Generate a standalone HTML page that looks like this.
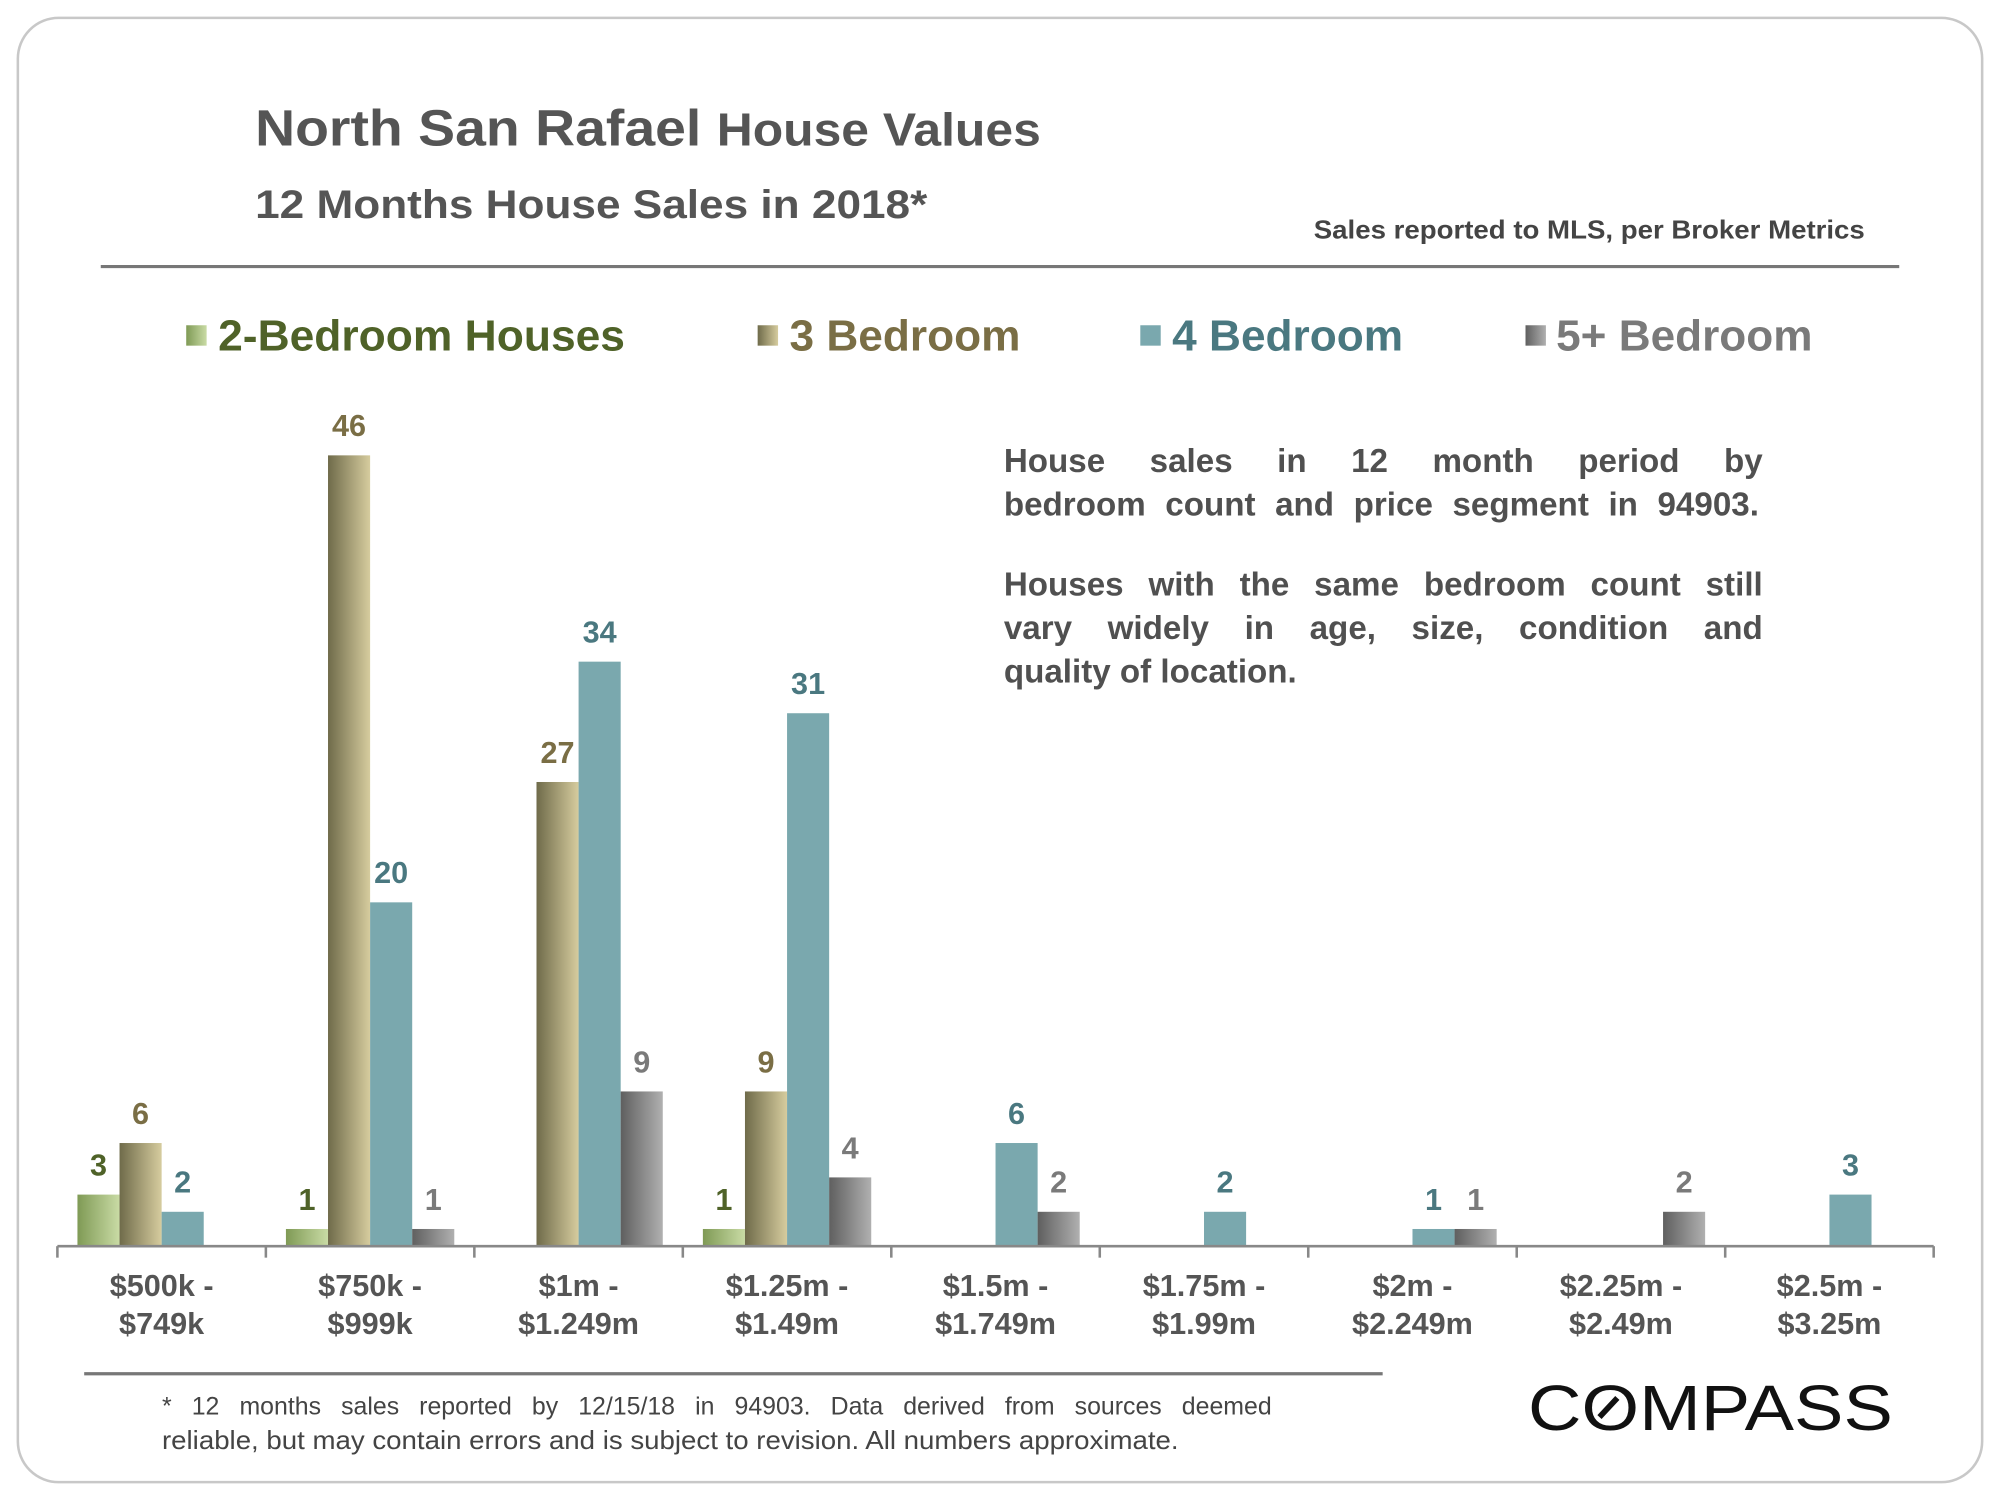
<!DOCTYPE html>
<html><head><meta charset="utf-8"><style>
html,body{margin:0;padding:0;background:#fff;}
svg{display:block;font-family:"Liberation Sans",Arial,sans-serif;}
#overlay{position:absolute;left:0;top:0;width:1568px;height:1176px;transform:scale(1.27551);transform-origin:0 0;font-family:"Liberation Sans",Arial,sans-serif;pointer-events:none;}
.jl{position:absolute;white-space:nowrap;text-align:justify;text-align-last:justify;}
.desc{left:787px;width:595px;font-weight:bold;font-size:26px;color:#505050;line-height:30px;height:30px;}
.foot{left:127px;width:870px;font-size:19.5px;color:#444;line-height:22px;height:22px;}
</style></head><body>
<svg id="chart" width="2000" height="1500" viewBox="0 0 1568 1176" xmlns="http://www.w3.org/2000/svg">
<defs>
<linearGradient id="g2" x1="0" x2="1" y1="0" y2="0"><stop offset="0" stop-color="#7f9a55"/><stop offset="1" stop-color="#c9dba5"/></linearGradient>
<linearGradient id="g3" x1="0" x2="1" y1="0" y2="0"><stop offset="0" stop-color="#6f6b4a"/><stop offset="1" stop-color="#d6cc9e"/></linearGradient>
<linearGradient id="g5" x1="0" x2="1" y1="0" y2="0"><stop offset="0" stop-color="#5f5f5f"/><stop offset="1" stop-color="#b0b0b0"/></linearGradient>
</defs>
<rect x="14" y="14" width="1540" height="1148" rx="32" fill="#fff" stroke="#c8c8c8" stroke-width="2"/>
<text x="200" y="114" fill="#555" font-weight="bold" font-size="40" textLength="616" lengthAdjust="spacingAndGlyphs">North San Rafael <tspan font-size="36">House Values</tspan></text>
<text x="200" y="171" fill="#555" font-weight="bold" font-size="31" textLength="527" lengthAdjust="spacingAndGlyphs">12 Months House Sales in 2018*</text>
<text x="1462" y="187" text-anchor="end" fill="#444" font-weight="bold" font-size="20" textLength="432" lengthAdjust="spacingAndGlyphs">Sales reported to MLS, per Broker Metrics</text>
<line x1="79" y1="209" x2="1489" y2="209" stroke="#777" stroke-width="2.5"/>
<g>
<g><rect x="146" y="255" width="16" height="16" fill="url(#g2)"/><text x="171" y="275" fill="#4f6228" font-weight="bold" font-size="34" textLength="319" lengthAdjust="spacingAndGlyphs">2-Bedroom Houses</text></g>
<g><rect x="594" y="255" width="16" height="16" fill="url(#g3)"/><text x="619" y="275" fill="#7a6e45" font-weight="bold" font-size="34" textLength="181" lengthAdjust="spacingAndGlyphs">3 Bedroom</text></g>
<g><rect x="894" y="255" width="16" height="16" fill="#7aa8ae"/><text x="919" y="275" fill="#4a7880" font-weight="bold" font-size="34" textLength="181" lengthAdjust="spacingAndGlyphs">4 Bedroom</text></g>
<g><rect x="1196" y="255" width="16" height="16" fill="url(#g5)"/><text x="1220" y="275" fill="#7a7a7a" font-weight="bold" font-size="34" textLength="201" lengthAdjust="spacingAndGlyphs">5+ Bedroom</text></g>
</g>
<g id="plot"></g>
<line x1="66" y1="1077" x2="1084" y2="1077" stroke="#777" stroke-width="2.5"/>
<text x="127" y="1136" fill="#444" font-size="20" textLength="797" lengthAdjust="spacingAndGlyphs">reliable, but may contain errors and is subject to revision. All numbers approximate.</text>
<g>
<text x="1198" y="1121" font-size="50" fill="#111" textLength="286" lengthAdjust="spacingAndGlyphs">COMPASS</text>
<line x1="1254" y1="1111" x2="1268" y2="1096" stroke="#111" stroke-width="4.5"/>
</g>
</svg>
<div id="overlay">
<div class="jl desc" style="top:346px">House sales in 12 month period by</div>
<div class="jl desc" style="top:380px;width:592px">bedroom count and price segment in 94903.</div>
<div class="jl desc" style="top:443px">Houses with the same bedroom count still</div>
<div class="jl desc" style="top:477px">vary widely in age, size, condition and</div>
<div class="desc" style="position:absolute;top:511px;white-space:nowrap">quality of location.</div>
<div class="jl foot" style="top:1092px">* 12 months sales reported by 12/15/18 in 94903. Data derived from sources deemed</div>
</div>
<script>
const categories1 = ["$500k -","$750k -","$1m -","$1.25m -","$1.5m -","$1.75m -","$2m -","$2.25m -","$2.5m -"];
const categories2 = ["$749k","$999k","$1.249m","$1.49m","$1.749m","$1.99m","$2.249m","$2.49m","$3.25m"];
const beds2 = [3,1,0,1,0,0,0,0,0];
const beds3 = [6,46,27,9,0,0,0,0,0];
const beds4 = [2,20,34,31,6,2,1,0,3];
const beds5 = [0,1,9,4,2,0,1,2,0];

const NS = "http://www.w3.org/2000/svg";
const plot = document.getElementById('plot');
const x0 = 45, x1 = 1516, yBase = 977, yTop = 357, yMax = 46;
const catW = (x1 - x0) / categories1.length;
const barW = 33;
function xCat(i){ return x0 + i * catW; }
function yScale(v){ return yBase - (v / yMax) * (yBase - yTop); }
function mk(tag, attrs){ const e = document.createElementNS(NS, tag); for (const k in attrs) e.setAttribute(k, attrs[k]); plot.appendChild(e); return e; }

const series = [
  {vals: beds2, fill: 'url(#g2)', label: '#4f6228', key: '2br'},
  {vals: beds3, fill: 'url(#g3)', label: '#7a6e45', key: '3br'},
  {vals: beds4, fill: '#7aa8ae', label: '#4a7880', key: '4br'},
  {vals: beds5, fill: 'url(#g5)', label: '#7a7a7a', key: '5br'}
];
series.forEach((s, si) => {
  s.vals.forEach((v, i) => {
    if (v <= 0) return;
    const bx = xCat(i) + (catW - 4 * barW) / 2 + si * barW;
    const r = mk('rect', {x: bx, y: yScale(v), width: barW, height: yBase - yScale(v), fill: s.fill});
    
    
    const t = mk('text', {x: bx + barW / 2, y: yScale(v) - 15, 'text-anchor': 'middle', fill: s.label, 'font-weight': 'bold', 'font-size': 24});
    t.textContent = v;
    
    
  });
});
const ax = mk('line', {x1: x0, y1: yBase, x2: x1, y2: yBase, stroke: '#888', 'stroke-width': 2});


for (let i = 0; i <= categories1.length; i++) {
  const tk = mk('line', {x1: xCat(i), y1: yBase, x2: xCat(i), y2: yBase + 9, stroke: '#888', 'stroke-width': 2});
  
  
}
categories1.forEach((c, i) => {
  const cx = xCat(i) + catW / 2;
  const t1 = mk('text', {x: cx, y: 1016, 'text-anchor': 'middle', fill: '#555', 'font-weight': 'bold', 'font-size': 24});
  t1.textContent = c;
  
  
  const t2 = mk('text', {x: cx, y: 1046, 'text-anchor': 'middle', fill: '#555', 'font-weight': 'bold', 'font-size': 24});
  t2.textContent = categories2[i];
  
  
});
</script>
</body></html>
